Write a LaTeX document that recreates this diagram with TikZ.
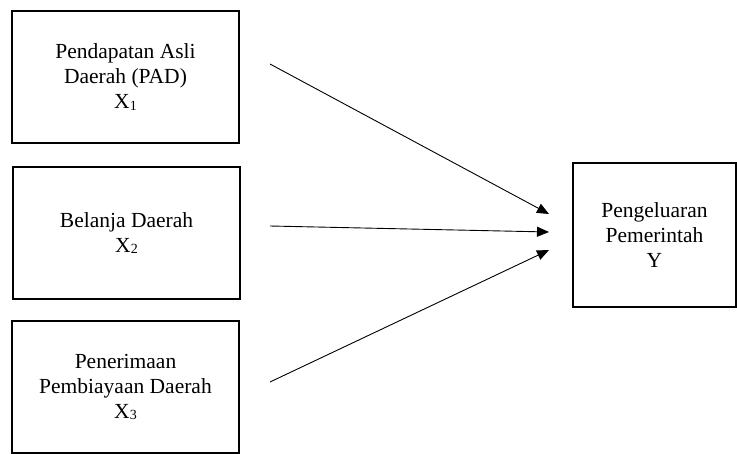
\documentclass[tikz,border=0pt]{standalone}
\usepackage{fontspec}
\setmainfont{Liberation Serif}
\usetikzlibrary{arrows.meta}
\newcommand{\idx}[1]{\raisebox{-1.5pt}{\fontsize{14}{14}\selectfont #1}}

\begin{document}
\begin{tikzpicture}[
			x=1pt, y=-1pt,
			every node/.style={font=\fontsize{21.5}{25}\selectfont, align=center},
			varbox/.style={draw, line width=1.8pt, minimum width=227pt, minimum height=132pt, inner sep=0pt},
			ybox/.style={draw, line width=1.8pt, minimum width=163pt, minimum height=144pt, inner sep=0pt},
			link/.style={line width=0.9pt, -{Triangle[length=12pt, width=10pt]}},
			]
			\useasboundingbox (0,0) rectangle (737,453);
			\node[varbox] (pad) at (125.5,77) {Pendapatan Asli\\Daerah (PAD)\\X\idx{1}};
			\node[varbox] (belanja) at (126.5,233) {Belanja Daerah\\X\idx{2}};
			\node[varbox] (pembiayaan) at (125.5,387) {Penerimaan\\Pembiayaan Daerah\\X\idx{3}};
			\node[ybox] (pengeluaran) at (654.5,235) {Pengeluaran\\Pemerintah\\Y};
			\coordinate (s1) at (270,64);
			\coordinate (s2) at (270,226);
			\coordinate (s3) at (270,382);
			\coordinate (t1) at (549,214);
			\coordinate (t2) at (549,232);
			\coordinate (t3) at (549,250);
			\draw[link] (s1) -- (t1);
			\draw[link] (s2) -- (t2);
			\draw[link] (s3) -- (t3);
		\end{tikzpicture}
\end{document}
